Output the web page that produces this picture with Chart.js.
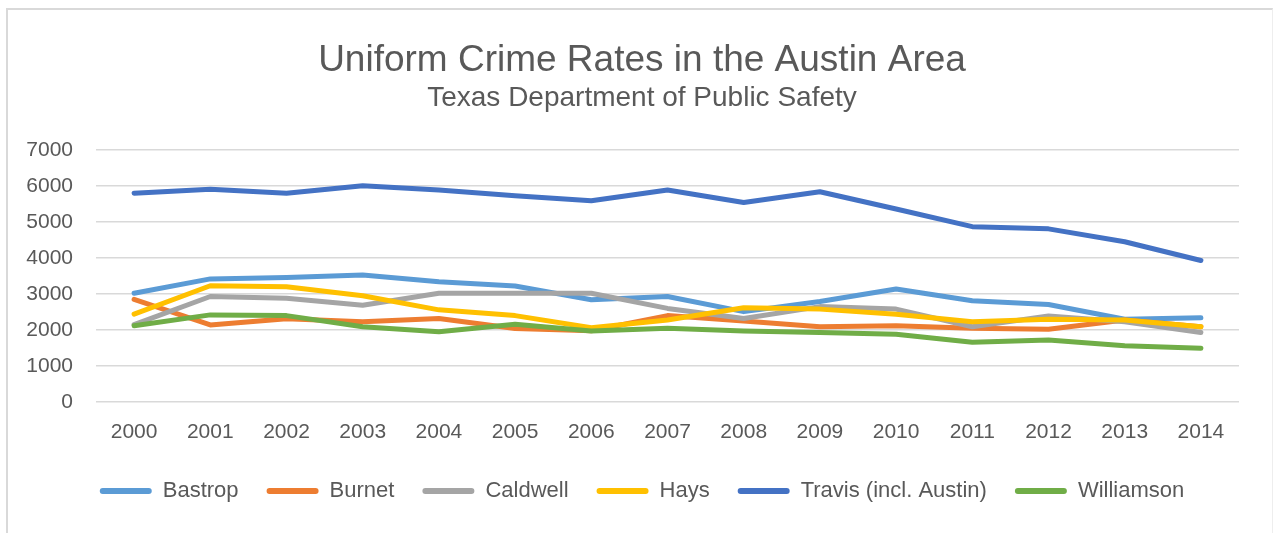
<!DOCTYPE html>
<html>
<head>
<meta charset="utf-8">
<title>Uniform Crime Rates in the Austin Area</title>
<script src="https://cdn.jsdelivr.net/npm/chart.js@4.4.1/dist/chart.umd.min.js"></script>
<style>
    html, body { margin: 0; padding: 0; background: #ffffff; }
    #frame {
        position: absolute; left: 6px; top: 8px; width: 1264px; height: 540px;
        border-left: 2px solid #d9d9d9; border-top: 2px solid #d9d9d9; border-right: 1px solid #eeeeee;
    }
    #wrap { position: absolute; left: 0; top: 0; width: 1273px; height: 533px; }
</style>
</head>
<body>
<div id="frame"></div>
<div id="wrap"><canvas id="crimeChart"></canvas></div>
<script>
// -------------------- Data --------------------
const years = ["2000","2001","2002","2003","2004","2005","2006","2007","2008","2009","2010","2011","2012","2013","2014"];
const countyNames = ["Bastrop", "Burnet", "Caldwell", "Hays", "Travis (incl. Austin)", "Williamson"];
const bastrop    = [3020, 3420, 3460, 3530, 3340, 3220, 2840, 2930, 2510, 2790, 3140, 2810, 2710, 2300, 2340];
const burnet     = [2850, 2140, 2310, 2230, 2320, 2040, 1980, 2400, 2250, 2090, 2120, 2050, 2020, 2280, 2090];
const caldwell   = [2150, 2930, 2880, 2690, 3020, 3020, 3020, 2600, 2320, 2650, 2580, 2090, 2390, 2230, 1930];
const hays       = [2440, 3230, 3200, 2950, 2560, 2400, 2060, 2280, 2620, 2580, 2440, 2230, 2300, 2280, 2090];
const travis     = [5800, 5910, 5800, 6010, 5890, 5730, 5590, 5890, 5540, 5840, 5360, 4870, 4810, 4450, 3930];
const williamson = [2120, 2420, 2400, 2090, 1950, 2160, 1970, 2050, 1970, 1930, 1880, 1660, 1720, 1560, 1490];
const seriesValues = [bastrop, burnet, caldwell, hays, travis, williamson];
const seriesColors = ["#5B9BD5", "#ED7D31", "#A5A5A5", "#FFC000", "#4472C4", "#70AD47"];
const yTicks = [0, 1000, 2000, 3000, 4000, 5000, 6000, 7000];

const textColor = "#595959";
const fontFamily = "'Liberation Sans', Arial, sans-serif";

// -------------------- Datasets --------------------
// Excel paints later series on top, so give them a lower order
const datasets = countyNames.map((name, i) => ({
    label: name,
    data: seriesValues[i],
    borderColor: seriesColors[i],
    backgroundColor: seriesColors[i],
    borderWidth: 5,
    borderCapStyle: "round",
    borderJoinStyle: "round",
    pointRadius: 0,
    pointHoverRadius: 0,
    tension: 0,
    order: countyNames.length - i
}));

// -------------------- Chart --------------------
const ctx = document.getElementById("crimeChart").getContext("2d");
new Chart(ctx, {
    type: "line",
    data: { labels: years, datasets },
    options: {
        responsive: true,
        maintainAspectRatio: false,
        animation: false,
        layout: { padding: { left: 45, right: 34, top: 0, bottom: 21 } },
        scales: {
            x: {
                offset: true,
                afterFit: scale => { scale.height = 50; },
                grid: { display: false, drawTicks: false },
                border: { display: false },
                ticks: { color: textColor, padding: 18, font: { family: fontFamily, size: 21 } }
            },
            y: {
                min: 0,
                max: 7000,
                afterFit: scale => {
                    scale.width = 51;
                    // labels stick out past the left padding, don't clip them
                    scale._computeLabelArea = () => undefined;
                },
                afterBuildTicks: scale => { scale.ticks = yTicks.map(v => ({ value: v })); },
                grid: { color: "#d9d9d9", lineWidth: 1.5, drawTicks: false },
                border: { display: false },
                ticks: {
                    color: textColor,
                    padding: 23,
                    font: { family: fontFamily, size: 21 },
                    callback: value => String(value)
                }
            }
        },
        plugins: {
            title: {
                display: true,
                text: "Uniform Crime Rates in the Austin Area",
                color: textColor,
                font: { family: fontFamily, size: 37, weight: "normal" },
                padding: { top: 39, bottom: 0 }
            },
            subtitle: {
                display: true,
                text: "Texas Department of Public Safety",
                color: textColor,
                font: { family: fontFamily, size: 28, weight: "normal" },
                padding: { top: -2, bottom: 35 }
            },
            legend: {
                position: "bottom",
                labels: {
                    color: textColor,
                    font: { family: fontFamily, size: 22 },
                    boxWidth: 52,
                    boxHeight: 6,
                    padding: 28,
                    useBorderRadius: true,
                    borderRadius: 3,
                    sort: (a, b) => a.datasetIndex - b.datasetIndex,
                    generateLabels: chart => Chart.defaults.plugins.legend.labels.generateLabels(chart)
                        .map(item => ({ ...item, lineWidth: 0, fillStyle: item.strokeStyle }))
                }
            },
            tooltip: { enabled: false }
        }
    }
});
</script>
</body>
</html>
